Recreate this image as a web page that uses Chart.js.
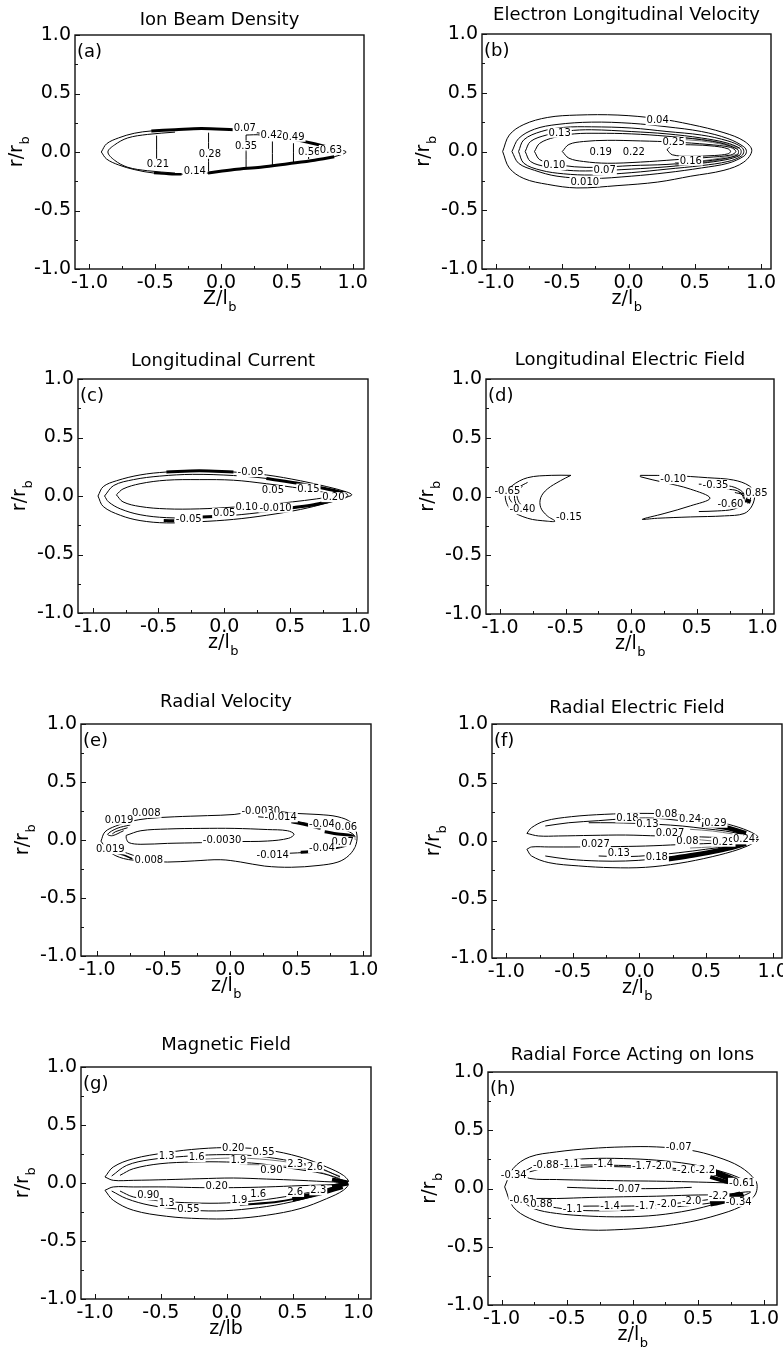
<!DOCTYPE html>
<html>
<head>
<meta charset="utf-8">
<script src="https://cdn.jsdelivr.net/npm/chart.js@4.4.0/dist/chart.umd.min.js"></script>
<style>
html, body { margin: 0; padding: 0; background: #fff; overflow: hidden; width: 783px; height: 1353px; }
canvas { position: absolute; }
</style>
</head>
<body>
<script>
const FONT = '"DejaVu Sans", sans-serif';
const zTicks = [-1, -0.5, 0, 0.5, 1];
const rTicks = [-1, -0.5, 0, 0.5, 1];
const zMinor = [-0.75, -0.25, 0.25, 0.75];
const rMinor = [-0.75, -0.25, 0.25, 0.75];

// (a) Ion Beam Density
const aOuter = [[-0.91,0],[-0.87,0.07],[-0.78,0.12],[-0.66,0.16],[-0.53,0.18],[-0.35,0.19],[-0.15,0.20],[0.10,0.19],[0.30,0.16],[0.51,0.12],[0.71,0.07],[0.86,0.03],[0.95,0],[0.86,-0.04],[0.71,-0.07],[0.51,-0.10],[0.30,-0.13],[0.10,-0.15],[-0.10,-0.18],[-0.30,-0.19],[-0.51,-0.18],[-0.66,-0.15],[-0.78,-0.11],[-0.87,-0.06],[-0.91,0]];
const aInner = [[-0.35,0.17],[-0.56,0.15],[-0.71,0.12],[-0.81,0.06],[-0.86,0],[-0.81,-0.07],[-0.71,-0.13],[-0.56,-0.16],[-0.35,-0.18]];
const aBandTop = [[-0.53,0.18],[-0.35,0.19],[-0.15,0.20],[0.10,0.19]];
const aBandTopRight = [[0.51,0.12],[0.71,0.07],[0.86,0.03]];
const aBandBottom = [[-0.10,-0.18],[0.10,-0.15],[0.30,-0.13],[0.51,-0.10],[0.71,-0.07],[0.86,-0.04]];
const aBandBottomLeft = [[-0.51,-0.18],[-0.40,-0.187],[-0.30,-0.19]];
const aV021 = [[-0.49,0.14],[-0.49,-0.09]];
const aV028 = [[-0.095,0.165],[-0.095,-0.165]];
const aV035 = [[0.19,0.145],[0.19,-0.14]];
const aV042 = [[0.39,0.09],[0.39,-0.115]];
const aV049 = [[0.55,0.075],[0.55,-0.09]];
const aV056 = [[0.665,0.045],[0.665,-0.06]];
const aStep = [[0.19,0.145],[0.30,0.145],[0.30,0.125]];
const aLabels = [['0.07',0.18,0.205],['0.42',0.385,0.145],['0.49',0.55,0.13],['0.35',0.19,0.055],['0.28',-0.085,-0.015],['0.56',0.67,0],['0.63',0.835,0.017],['0.21',-0.48,-0.10],['0.14',-0.20,-0.16]];

// (b) Electron Longitudinal Velocity
const b1 = [[-0.95,0],[-0.90,0.14],[-0.79,0.23],[-0.61,0.29],[-0.39,0.31],[-0.08,0.31],[0.22,0.28],[0.47,0.23],[0.72,0.16],[0.87,0.09],[0.93,0.01],[0.87,-0.09],[0.72,-0.16],[0.47,-0.21],[0.22,-0.26],[-0.08,-0.29],[-0.39,-0.31],[-0.61,-0.28],[-0.79,-0.23],[-0.90,-0.14],[-0.95,0]];
const b2 = [[-0.88,0],[-0.83,0.11],[-0.71,0.19],[-0.54,0.23],[-0.28,0.25],[0.02,0.24],[0.29,0.21],[0.55,0.17],[0.75,0.11],[0.87,0.04],[0.89,0],[0.87,-0.04],[0.75,-0.10],[0.55,-0.14],[0.29,-0.18],[0.02,-0.21],[-0.28,-0.23],[-0.54,-0.21],[-0.71,-0.16],[-0.83,-0.10],[-0.88,0]];
const b3 = [[-0.83,0],[-0.79,0.10],[-0.66,0.17],[-0.49,0.205],[-0.28,0.21],[0.02,0.20],[0.29,0.17],[0.55,0.14],[0.75,0.09],[0.85,0.04],[0.87,0],[0.85,-0.04],[0.75,-0.085],[0.55,-0.12],[0.29,-0.15],[0.02,-0.18],[-0.28,-0.20],[-0.49,-0.19],[-0.66,-0.16],[-0.79,-0.10],[-0.83,0]];
const b4 = [[-0.78,0],[-0.74,0.085],[-0.62,0.14],[-0.46,0.175],[-0.28,0.185],[0.02,0.17],[0.29,0.15],[0.55,0.115],[0.735,0.075],[0.835,0.03],[0.85,0],[0.835,-0.035],[0.735,-0.07],[0.55,-0.10],[0.29,-0.13],[0.02,-0.15],[-0.28,-0.165],[-0.46,-0.16],[-0.62,-0.13],[-0.74,-0.085],[-0.78,0]];
const b5 = [[-0.71,0],[-0.67,0.07],[-0.56,0.12],[-0.41,0.15],[-0.23,0.155],[0.02,0.15],[0.29,0.13],[0.55,0.10],[0.72,0.065],[0.82,0.02],[0.83,0],[0.82,-0.03],[0.72,-0.06],[0.55,-0.085],[0.29,-0.11],[0.02,-0.12],[-0.23,-0.135],[-0.41,-0.13],[-0.56,-0.105],[-0.67,-0.07],[-0.71,0]];
const b6 = [[-0.50,0],[-0.45,0.06],[-0.34,0.085],[-0.16,0.095],[0.09,0.09],[0.35,0.08],[0.60,0.06],[0.77,0.035],[0.81,0],[0.77,-0.03],[0.60,-0.05],[0.35,-0.07],[0.09,-0.09],[-0.16,-0.10],[-0.34,-0.085],[-0.45,-0.057],[-0.50,0]];
const b7 = [[0.29,0.015],[0.33,0.05],[0.47,0.057],[0.65,0.045],[0.75,0.023],[0.77,0],[0.75,-0.02],[0.65,-0.034],[0.47,-0.04],[0.33,-0.028],[0.29,0.015]];
const bDense1 = [[0.35,0.12],[0.55,0.105],[0.72,0.07],[0.84,0.03]];
const bDense2 = [[0.35,0.105],[0.55,0.09],[0.72,0.058],[0.83,0.025]];
const bDense3 = [[0.35,-0.095],[0.55,-0.08],[0.72,-0.05],[0.83,-0.02]];
const bDense4 = [[0.35,-0.115],[0.55,-0.095],[0.72,-0.065],[0.84,-0.03]];
const bLabels = [['0.04',0.22,0.265],['0.13',-0.52,0.16],['0.25',0.34,0.08],['0.19',-0.21,0],['0.22',0.04,0],['0.10',-0.56,-0.115],['0.16',0.47,-0.077],['0.07',-0.18,-0.16],['0.010',-0.33,-0.255]];

// (c) Longitudinal Current
const c1 = [[-0.96,0],[-0.92,0.08],[-0.82,0.13],[-0.64,0.18],[-0.44,0.205],[-0.19,0.215],[0.07,0.205],[0.32,0.18],[0.58,0.13],[0.78,0.08],[0.93,0.035],[0.97,0.01],[0.93,-0.01],[0.78,-0.06],[0.58,-0.115],[0.32,-0.165],[0.07,-0.20],[-0.19,-0.22],[-0.44,-0.23],[-0.64,-0.21],[-0.79,-0.165],[-0.92,-0.09],[-0.96,0]];
const c2 = [[-0.91,0],[-0.84,0.09],[-0.69,0.14],[-0.49,0.17],[-0.24,0.185],[0.07,0.175],[0.32,0.15],[0.58,0.105],[0.78,0.06],[0.92,0.025],[0.94,0.005],[0.92,-0.015],[0.78,-0.05],[0.58,-0.095],[0.32,-0.135],[0.07,-0.165],[-0.19,-0.185],[-0.44,-0.185],[-0.64,-0.16],[-0.79,-0.11],[-0.88,-0.05],[-0.91,0]];
const c3 = [[-0.82,0.01],[-0.77,0.06],[-0.64,0.105],[-0.44,0.135],[-0.19,0.14],[0.07,0.135],[0.32,0.105],[0.52,0.075],[0.70,0.045],[0.80,0.015],[0.82,0],[0.70,-0.025],[0.52,-0.05],[0.32,-0.075],[0.07,-0.095],[-0.19,-0.11],[-0.44,-0.11],[-0.64,-0.09],[-0.77,-0.05],[-0.82,0.01]];
const cBandTopL = [[-0.44,0.205],[-0.19,0.215],[0.07,0.205]];
const cBandTopR = [[0.32,0.15],[0.58,0.105],[0.78,0.06],[0.92,0.025]];
const cBandBotR = [[0.52,-0.10],[0.68,-0.075],[0.80,-0.045],[0.92,-0.012]];
const cBandBot1 = [[-0.46,-0.21],[-0.38,-0.212]];
const cBandBot2 = [[-0.17,-0.18],[-0.08,-0.176]];
const cLabels = [['-0.05',0.20,0.205],['0.05',0.37,0.05],['0.15',0.64,0.063],['0.20',0.83,-0.01],['-0.05',-0.27,-0.20],['0.05',0.0,-0.145],['0.10',0.17,-0.094],['-0.010',0.39,-0.10]];

// (d) Longitudinal Electric Field
const d1 = [[-0.46,0.18],[-0.61,0.18],[-0.79,0.16],[-0.91,0.09],[-0.96,0.01],[-0.92,-0.11],[-0.79,-0.185],[-0.64,-0.21],[-0.58,-0.21],[-0.64,-0.165],[-0.69,-0.094],[-0.69,-0.01],[-0.64,0.063],[-0.54,0.134],[-0.46,0.18]];
const d1a = [[-0.79,0.12],[-0.855,0.077],[-0.89,0.006],[-0.87,-0.08],[-0.82,-0.123]];
const d1b = [[-0.83,0.09],[-0.87,0.02],[-0.855,-0.05],[-0.82,-0.088]];
const d1c = [[-0.92,0.034],[-0.93,-0.01],[-0.91,-0.05]];
const d2 = [[0.07,0.18],[0.325,0.177],[0.58,0.16],[0.78,0.14],[0.90,0.09],[0.94,0.02],[0.92,-0.08],[0.86,-0.145],[0.71,-0.165],[0.45,-0.174],[0.20,-0.185],[0.084,-0.194],[0.25,-0.145],[0.45,-0.08],[0.60,-0.014],[0.45,0.063],[0.25,0.12],[0.07,0.168],[0.07,0.18]];
const d3 = [[0.515,0.105],[0.68,0.097],[0.79,0.077],[0.86,0.02],[0.845,-0.066],[0.78,-0.108],[0.655,-0.123],[0.515,-0.128]];
const d4 = [[0.73,0.063],[0.81,0.048],[0.86,0],[0.83,-0.06],[0.756,-0.083]];
const d5 = [[0.79,0.034],[0.845,0.014],[0.853,-0.037],[0.82,-0.066]];
const d6 = [[0.82,0.034],[0.88,0.006],[0.87,-0.05]];
const d7 = [[0.883,0.048],[0.91,-0.01],[0.888,-0.06]];
const dBlob = [[0.87,-0.03],[0.91,-0.045]];
const dLabels = [['-0.65',-0.944,0.048],['-0.40',-0.83,-0.108],['-0.15',-0.475,-0.171],['-0.10',0.32,0.148],['-0.35',0.642,0.10],['0.85',0.954,0.034],['-0.60',0.756,-0.06]];

// (e) Radial Velocity
const e1 = [[-0.97,-0.01],[-0.94,0.07],[-0.86,0.12],[-0.75,0.16],[-0.62,0.185],[-0.42,0.20],[-0.17,0.21],[0.03,0.22],[0.18,0.245],[0.33,0.25],[0.48,0.23],[0.66,0.22],[0.81,0.20],[0.91,0.15],[0.95,0.06],[0.945,-0.04],[0.895,-0.13],[0.81,-0.19],[0.66,-0.22],[0.46,-0.235],[0.26,-0.225],[0.08,-0.19],[-0.07,-0.17],[-0.27,-0.18],[-0.47,-0.19],[-0.65,-0.18],[-0.80,-0.16],[-0.91,-0.10],[-0.97,-0.01]];
const e2 = [[-0.78,0.04],[-0.67,0.08],[-0.47,0.095],[-0.22,0.10],[0.03,0.10],[0.28,0.09],[0.43,0.08],[0.48,0.05],[0.44,0.015],[0.28,-0.009],[0.03,-0.014],[-0.22,-0.023],[-0.47,-0.029],[-0.67,-0.037],[-0.76,-0.023],[-0.78,0.014],[-0.78,0.04]];
const e3 = [[-0.75,0.13],[-0.85,0.10],[-0.92,0.05],[-0.885,0.037],[-0.80,0.08]];
const e4 = [[-0.77,0.106],[-0.86,0.072],[-0.885,0.052]];
const e5 = [[-0.897,-0.10],[-0.80,-0.129],[-0.734,-0.163]];
const e6 = [[-0.86,-0.08],[-0.77,-0.115],[-0.70,-0.143]];
const e7 = [[0.21,0.20],[0.41,0.178],[0.58,0.143],[0.73,0.115],[0.86,0.086],[0.93,0.043],[0.937,0]];
const e8 = [[0.46,0.158],[0.58,0.129],[0.68,0.10]];
const e9 = [[0.71,0.072],[0.81,0.052],[0.91,0.037],[0.937,0.02]];
const e10 = [[0.23,-0.129],[0.43,-0.115],[0.58,-0.106],[0.73,-0.086],[0.86,-0.057],[0.92,-0.023]];
const e11 = [[0.53,-0.106],[0.61,-0.10]];
const e12 = [[0.78,-0.072],[0.88,-0.043],[0.927,-0.014]];
const eLabels = [['0.008',-0.63,0.235],['0.019',-0.835,0.175],['0.019',-0.90,-0.08],['0.008',-0.61,-0.172],['-0.0030',0.23,0.255],['-0.0030',-0.06,0],['-0.014',0.38,0.195],['-0.04',0.69,0.143],['0.06',0.87,0.115],['0.07',0.845,-0.014],['-0.04',0.69,-0.072],['-0.014',0.32,-0.129]];

// (f) Radial Electric Field
const f1 = [[-0.845,0.065],[-0.81,0.114],[-0.71,0.171],[-0.51,0.208],[-0.26,0.228],[0,0.236],[0.25,0.228],[0.47,0.193],[0.67,0.142],[0.82,0.085],[0.89,0.034],[0.82,0.023],[0.65,0.028],[0.40,0.037],[0.145,0.043],[-0.105,0.051],[-0.356,0.048],[-0.607,0.043],[-0.757,0.043],[-0.845,0.065]];
const f2 = [[-0.845,-0.071],[-0.81,-0.128],[-0.68,-0.185],[-0.456,-0.213],[-0.206,-0.228],[0.045,-0.225],[0.296,-0.191],[0.546,-0.134],[0.747,-0.071],[0.872,-0.009],[0.892,0.014],[0.747,-0.009],[0.546,-0.02],[0.296,-0.031],[0.045,-0.043],[-0.206,-0.048],[-0.456,-0.051],[-0.68,-0.051],[-0.81,-0.051],[-0.845,-0.071]];
const f3 = [[-0.707,0.128],[-0.531,0.156],[-0.306,0.174],[-0.105,0.191],[0.095,0.196],[0.296,0.176],[0.496,0.151],[0.672,0.114],[0.797,0.071]];
const f4 = [[-0.381,0.156],[-0.206,0.156],[-0.03,0.151],[0.145,0.142],[0.321,0.128],[0.496,0.105],[0.647,0.085],[0.772,0.057]];
const f5 = [[-0.707,-0.128],[-0.531,-0.156],[-0.306,-0.171],[-0.105,-0.171],[0.095,-0.156],[0.296,-0.128],[0.496,-0.094],[0.672,-0.057],[0.797,-0.02]];
const f6 = [[-0.306,-0.128],[-0.105,-0.134],[0.095,-0.122],[0.296,-0.10],[0.496,-0.071],[0.672,-0.043],[0.772,-0.02]];
const f7 = [[0.47,0.142],[0.65,0.114],[0.80,0.065]];
const f8 = [[0.20,-0.156],[0.40,-0.122],[0.60,-0.08],[0.80,-0.023]];
const f9 = [[0.38,0.10],[0.55,0.085],[0.70,0.06]];
const f10 = [[0.38,0.02],[0.55,0],[0.70,-0.005]];
const f11 = [[0.38,-0.06],[0.55,-0.05],[0.70,-0.03]];
const fLabels = [['0.18',-0.09,0.20],['0.08',0.20,0.233],['0.13',0.06,0.15],['0.24',0.38,0.185],['0.29',0.57,0.156],['0.027',0.23,0.065],['0.027',-0.33,-0.023],['0.08',0.36,0],['0.29',0.63,-0.006],['0.24',0.785,0.014],['0.13',-0.155,-0.10],['0.18',0.13,-0.137]];

// (g) Magnetic Field
const g1 = [[-0.924,0.052],[-0.861,0.138],[-0.709,0.209],[-0.456,0.262],[-0.203,0.295],[0.051,0.305],[0.304,0.285],[0.557,0.224],[0.759,0.138],[0.886,0.066],[0.924,0.009],[0.81,0.009],[0.557,0.023],[0.304,0.034],[0.051,0.043],[-0.203,0.037],[-0.456,0.029],[-0.709,0.023],[-0.861,0.023],[-0.924,0.052]];
const g2 = [[-0.924,-0.063],[-0.861,-0.149],[-0.709,-0.235],[-0.456,-0.287],[-0.203,-0.307],[0.051,-0.307],[0.304,-0.278],[0.557,-0.221],[0.759,-0.135],[0.886,-0.063],[0.924,-0.006],[0.81,-0.014],[0.557,-0.023],[0.304,-0.034],[0.051,-0.04],[-0.203,-0.04],[-0.456,-0.034],[-0.709,-0.034],[-0.861,-0.034],[-0.924,-0.063]];
const g3 = [[-0.873,0.06],[-0.759,0.152],[-0.582,0.201],[-0.329,0.229],[-0.076,0.244],[0.177,0.238],[0.43,0.201],[0.684,0.138],[0.861,0.052]];
const g4 = [[-0.81,0.066],[-0.709,0.123],[-0.506,0.166],[-0.253,0.181],[0,0.181],[0.253,0.166],[0.506,0.123],[0.734,0.08],[0.886,0.023]];
const g5 = [[-0.873,-0.069],[-0.759,-0.135],[-0.582,-0.192],[-0.329,-0.229],[-0.076,-0.241],[0.177,-0.221],[0.43,-0.178],[0.684,-0.106],[0.861,-0.034]];
const g6 = [[-0.81,-0.069],[-0.709,-0.12],[-0.506,-0.155],[-0.253,-0.172],[0,-0.172],[0.253,-0.149],[0.506,-0.106],[0.734,-0.057],[0.886,-0.014]];
const g7 = [[-0.2,0.205],[0.1,0.215],[0.4,0.19],[0.65,0.14],[0.86,0.06]];
const g8 = [[0.1,0.16],[0.4,0.15],[0.65,0.11],[0.86,0.04]];
const g9 = [[0.1,-0.19],[0.4,-0.16],[0.65,-0.10],[0.86,-0.035]];
const g10 = [[0.5,-0.14],[0.7,-0.09],[0.88,-0.03]];
const g11 = [[0.80,0.03],[0.92,0.005]];
const g12 = [[0.80,-0.03],[0.92,-0.005]];
const gLabels = [['0.20',0.05,0.305],['0.55',0.28,0.266],['1.3',-0.456,0.232],['1.6',-0.228,0.223],['1.9',0.089,0.20],['0.90',0.34,0.117],['2.3',0.52,0.166],['2.6',0.67,0.137],['0.20',-0.076,-0.026],['0.90',-0.595,-0.106],['1.3',-0.456,-0.172],['0.55',-0.29,-0.22],['1.9',0.096,-0.149],['1.6',0.24,-0.097],['2.6',0.52,-0.077],['2.3',0.696,-0.063]];

// (h) Radial Force Acting on Ions
const h1 = [[-0.976,0.014],[-0.912,0.171],[-0.785,0.271],[-0.581,0.314],[-0.326,0.343],[-0.071,0.357],[0.183,0.357],[0.438,0.329],[0.642,0.271],[0.82,0.186],[0.935,0.071],[0.948,0],[0.922,-0.071],[0.82,-0.157],[0.642,-0.229],[0.438,-0.286],[0.183,-0.329],[-0.071,-0.351],[-0.326,-0.357],[-0.581,-0.329],[-0.785,-0.257],[-0.912,-0.157],[-0.976,0.014]];
const h2 = [[-0.848,0.129],[-0.759,0.186],[-0.581,0.234],[-0.326,0.257],[-0.071,0.257],[0.183,0.243],[0.438,0.209],[0.642,0.157],[0.795,0.10],[0.884,0.043],[0.693,0.049],[0.438,0.057],[0.183,0.063],[-0.071,0.066],[-0.326,0.071],[-0.581,0.077],[-0.785,0.086],[-0.848,0.129]];
const h3 = [[-0.848,-0.10],[-0.759,-0.171],[-0.581,-0.214],[-0.326,-0.237],[-0.071,-0.243],[0.183,-0.229],[0.438,-0.186],[0.642,-0.129],[0.82,-0.071],[0.897,-0.029],[0.693,-0.051],[0.438,-0.057],[0.183,-0.066],[-0.071,-0.071],[-0.326,-0.077],[-0.581,-0.086],[-0.785,-0.086],[-0.848,-0.10]];
const hMid = [[-0.5,0.01],[-0.2,0],[0.2,0],[0.45,0.01]];
const h4 = [[-0.785,0.143],[-0.632,0.186],[-0.428,0.20],[-0.173,0.20],[0.082,0.191],[0.336,0.171],[0.566,0.143],[0.744,0.10],[0.846,0.057]];
const h5 = [[-0.53,0.171],[-0.326,0.186],[-0.071,0.186],[0.183,0.171],[0.438,0.143],[0.642,0.114],[0.795,0.071]];
const h6 = [[-0.785,-0.129],[-0.632,-0.157],[-0.428,-0.186],[-0.173,-0.191],[0.082,-0.18],[0.336,-0.157],[0.566,-0.129],[0.744,-0.094],[0.846,-0.057]];
const h7 = [[-0.53,-0.157],[-0.326,-0.151],[-0.071,-0.151],[0.183,-0.143],[0.438,-0.114],[0.642,-0.086],[0.795,-0.057]];
const h8 = [[0.617,0.143],[0.744,0.086],[0.846,0.043]];
const h9 = [[0.591,0.10],[0.718,0.057],[0.82,0.029]];
const h10 = [[0.591,-0.129],[0.718,-0.10],[0.846,-0.057]];
const h11 = [[0.591,-0.094],[0.718,-0.071],[0.82,-0.043]];
const hLabels = [['-0.07',0.35,0.357],['-0.88',-0.662,0.20],['-1.1',-0.479,0.214],['-1.4',-0.224,0.209],['-1.7',0.069,0.191],['-2.0',0.222,0.191],['-2.0',0.413,0.157],['-2.2',0.553,0.157],['-0.34',-0.907,0.114],['-0.61',0.833,0.049],['-0.07',-0.04,0],['-0.61',-0.84,-0.094],['0.88',-0.696,-0.134],['-1.1',-0.459,-0.171],['-1.4',-0.173,-0.149],['-1.7',0.094,-0.149],['-2.0',0.26,-0.134],['-2.0',0.45,-0.109],['-2.2',0.655,-0.066],['-0.34',0.808,-0.114]];

const INK = '#000';
const GREY = '#777';
function L(pts, w, c) { return { pts: pts, w: w || 1, c: c || INK }; }

const panels = [
  { title: 'Ion Beam Density', letter: '(a)', xMain: 'Z/l', xSub: 'b', box: [75, 35, 364, 269], zMin: -1.11, zMax: 1.086, titleGap: 15,
    lines: [L(aOuter), L(aInner), L(aBandTop, 3), L(aBandTopRight, 3), L(aBandBottom, 3), L(aBandBottomLeft, 2.5),
            L(aV021), L(aV028), L(aV035), L(aV042), L(aV049), L(aV056), L(aStep)], labels: aLabels },
  { title: 'Electron Longitudinal Velocity', letter: '(b)', xMain: 'z/l', xSub: 'b', box: [482, 34, 771, 269], zMin: -1.106, zMax: 1.075, titleGap: 19,
    lines: [L(b1), L(b2), L(b3), L(b4), L(b5), L(b6), L(b7), L(bDense1, 1, GREY), L(bDense2, 1, GREY), L(bDense3, 1, GREY), L(bDense4, 1, GREY)], labels: bLabels },
  { title: 'Longitudinal Current', letter: '(c)', xMain: 'z/l', xSub: 'b', box: [78, 379, 368, 613], zMin: -1.112, zMax: 1.093, titleGap: 18,
    lines: [L(c1), L(c2), L(c3), L(cBandTopL, 3), L(cBandTopR, 3), L(cBandBotR, 3), L(cBandBot1, 3), L(cBandBot2, 3)], labels: cLabels },
  { title: 'Longitudinal Electric Field', letter: '(d)', xMain: 'z/l', xSub: 'b', box: [486, 379, 774, 614], zMin: -1.107, zMax: 1.088, titleGap: 19,
    lines: [L(d1), L(d1a), L(d1b), L(d1c), L(d2), L(d3), L(d4), L(d5), L(d6), L(d7), L(dBlob, 4)], labels: dLabels },
  { title: 'Radial Velocity', letter: '(e)', xMain: 'z/l', xSub: 'b', box: [81, 724, 371, 956], zMin: -1.12, zMax: 1.058, titleGap: 22,
    lines: [L(e1), L(e2), L(e3), L(e4), L(e5, 1.5), L(e6), L(e7), L(e8, 3), L(e9, 3), L(e10), L(e11, 3), L(e12)], labels: eLabels },
  { title: 'Radial Electric Field', letter: '(f)', xMain: 'z/l', xSub: 'b', box: [492, 724, 782, 958], zMin: -1.107, zMax: 1.07, titleGap: 16,
    lines: [L(f1), L(f2), L(f3), L(f4), L(f5), L(f6), L(f7, 5), L(f8, 5), L(f9, 1, GREY), L(f10, 1, GREY), L(f11, 1, GREY)], labels: fLabels },
  { title: 'Magnetic Field', letter: '(g)', xMain: 'z/lb', xSub: '', box: [81, 1067, 371, 1299], zMin: -1.106, zMax: 1.096, titleGap: 22,
    lines: [L(g1), L(g2), L(g3), L(g4), L(g5), L(g6), L(g7, 1, GREY), L(g8, 1, GREY), L(g9, 2), L(g10, 5), L(g11, 4), L(g12, 4)], labels: gLabels },
  { title: 'Radial Force Acting on Ions', letter: '(h)', xMain: 'z/l', xSub: 'b', box: [488, 1072, 777, 1305], zMin: -1.103, zMax: 1.1, titleGap: 17,
    lines: [L(h1), L(h2), L(h3), L(hMid), L(h4), L(h5), L(h6), L(h7), L(h8, 6), L(h9, 4), L(h10, 6), L(h11, 4)], labels: hLabels }
];

const PAD_L = 75, PAD_T = 40, PAD_R = 14, AX_B = 50;

function subText(ctx, main, sub, cx, cy) {
  ctx.font = '19px ' + FONT;
  const w1 = ctx.measureText(main).width;
  ctx.font = '13px ' + FONT;
  const w2 = sub ? ctx.measureText(sub).width : 0;
  const x0 = cx - (w1 + w2) / 2;
  ctx.textAlign = 'left';
  ctx.textBaseline = 'middle';
  ctx.font = '19px ' + FONT;
  ctx.fillText(main, x0, cy);
  if (sub) {
    ctx.font = '13px ' + FONT;
    ctx.fillText(sub, x0 + w1 + 0.5, cy + 9);
  }
}

function makePanel(p) {
  const [l, t, r, b] = p.box;
  const cv = document.createElement('canvas');
  cv.width = r - l + PAD_L + PAD_R;
  cv.height = b - t + PAD_T + AX_B;
  cv.style.left = (l - PAD_L) + 'px';
  cv.style.top = (t - PAD_T) + 'px';
  document.body.appendChild(cv);

  const datasets = p.lines.map(c => ({
    data: c.pts.map(q => ({ x: q[0], y: q[1] })),
    showLine: true,
    pointRadius: 0,
    borderColor: c.c,
    borderWidth: c.w,
    tension: 0.35,
    fill: false
  }));

  const decor = {
    id: 'decor',
    afterDatasetsDraw(chart) {
      const { ctx, scales: { x, y } } = chart;
      ctx.save();
      ctx.font = '10px ' + FONT;
      ctx.textAlign = 'center';
      ctx.textBaseline = 'middle';
      p.labels.forEach(([txt, zv, rv]) => {
        const px = x.getPixelForValue(zv), py = y.getPixelForValue(rv);
        const w = ctx.measureText(txt).width;
        ctx.fillStyle = '#fff';
        ctx.fillRect(px - w / 2 - 1, py - 5, w + 2, 10);
        ctx.fillStyle = INK;
        ctx.fillText(txt, px, py + 0.5);
      });
      ctx.restore();
    },
    afterDraw(chart) {
      const { ctx, chartArea: a, scales: { x, y } } = chart;
      ctx.save();
      ctx.strokeStyle = '#111';
      ctx.lineWidth = 1.4;
      ctx.strokeRect(a.left, a.top, a.right - a.left, a.bottom - a.top);
      ctx.lineWidth = 1;
      ctx.beginPath();
      zTicks.concat(zMinor).forEach((v, i) => {
        const px = Math.round(x.getPixelForValue(v)) + 0.5, len = i < zTicks.length ? 5 : 3;
        ctx.moveTo(px, a.bottom); ctx.lineTo(px, a.bottom - len);
      });
      rTicks.concat(rMinor).forEach((v, i) => {
        const py = Math.round(y.getPixelForValue(v)) + 0.5, len = i < rTicks.length ? 5 : 3;
        ctx.moveTo(a.left, py); ctx.lineTo(a.left + len, py);
      });
      ctx.stroke();

      ctx.fillStyle = INK;
      ctx.font = '18px ' + FONT;
      ctx.textAlign = 'center';
      ctx.textBaseline = 'middle';
      ctx.fillText(p.title, (a.left + a.right) / 2, a.top - p.titleGap);
      ctx.font = '18px ' + FONT;
      ctx.textAlign = 'left';
      ctx.fillText(p.letter, a.left + 2, a.top + 17);

      subText(ctx, p.xMain, p.xSub, (a.left + a.right) / 2, a.bottom + 30);

      ctx.save();
      ctx.translate(a.left - 58, (a.top + a.bottom) / 2);
      ctx.rotate(-Math.PI / 2);
      subText(ctx, 'r/r', 'b', 0, 0);
      ctx.restore();
      ctx.restore();
    }
  };

  new Chart(cv, {
    type: 'scatter',
    data: { datasets },
    options: {
      responsive: false,
      animation: false,
      devicePixelRatio: 1,
      layout: { padding: { left: 0, top: PAD_T, right: PAD_R, bottom: 0 } },
      plugins: { legend: { display: false }, tooltip: { enabled: false }, title: { display: false } },
      scales: {
        x: {
          type: 'linear', min: p.zMin, max: p.zMax,
          afterFit: s => { s.height = AX_B; },
          afterBuildTicks: s => { s.ticks = zTicks.map(v => ({ value: v })); },
          grid: { display: false, drawTicks: false }, border: { display: false },
          ticks: { callback: v => v.toFixed(1), font: { family: FONT, size: 19 }, color: INK, padding: 3, maxRotation: 0, autoSkip: false }
        },
        y: {
          type: 'linear', min: -1, max: 1,
          afterFit: s => { s.width = PAD_L; },
          afterBuildTicks: s => { s.ticks = rTicks.map(v => ({ value: v })); },
          grid: { display: false, drawTicks: false }, border: { display: false },
          ticks: { callback: v => v.toFixed(1), font: { family: FONT, size: 19 }, color: INK, padding: 4, autoSkip: false }
        }
      }
    },
    plugins: [decor]
  });
}

panels.forEach(makePanel);
</script>
</body>
</html>
